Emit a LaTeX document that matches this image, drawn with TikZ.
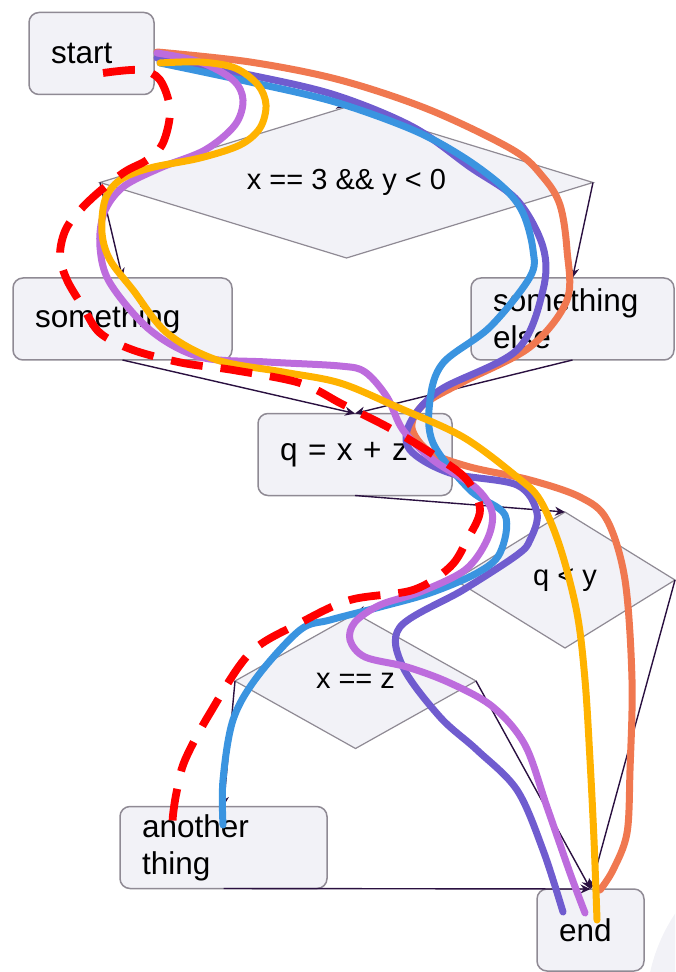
\documentclass[tikz,border=0pt]{standalone}
\usepackage{fontspec}
\setmainfont{Liberation Sans}
\usetikzlibrary{shapes.geometric,arrows.meta}
\definecolor{boxfill}{HTML}{F2F2F7}
\definecolor{boxline}{HTML}{8F8A94}
\definecolor{conn}{HTML}{2A1040}
\definecolor{cOrange}{HTML}{F07850}
\definecolor{cSlate}{HTML}{705CCF}
\definecolor{cBlue}{HTML}{3A94E0}
\definecolor{cOrchid}{HTML}{BD6CDD}
\definecolor{cAmber}{HTML}{FFB300}
\definecolor{cRed}{HTML}{FF0000}
\begin{document}
\begin{tikzpicture}[x=0.5pt,y=-0.5pt,
 box/.style={draw=boxline, fill=boxfill, line width=0.75pt, rounded corners=5pt, anchor=west,
   minimum height=41pt, inner xsep=11pt, inner ysep=0pt, outer sep=0pt, align=left,
   font=\fontsize{15.75}{18.5}\selectfont},
 dia/.style={diamond, draw=boxline, fill=boxfill, line width=0.6pt, inner sep=0pt, outer sep=0pt,
   font=\fontsize{14.5}{17}\selectfont},
 link/.style={draw=conn, line width=0.7pt, -{Stealth[length=5pt,width=4.5pt]}},
 trail/.style={line width=3.5pt, line cap=round, line join=round}
]
\useasboundingbox (0,0) rectangle (675,972);
\begin{scope}
\clip (0,0) rectangle (675,972);
\fill[boxfill] (820,1010) circle[radius=87pt];
\end{scope}

% nodes
\node[box, text width=40.5pt] (start) at (29,53.5) {start};
\node[dia, aspect=3.26, minimum width=246.5pt, minimum height=75.5pt] (d1) at (346.5,182.5) {x == 3 \&\& y < 0};
\node[box, text width=87.5pt] (some) at (13,319) {something};
\node[box, text width=79.5pt] (else) at (471,319) {something\\else};
\node[box, text width=75pt] (qxz) at (258,454.5) {q = x + z};
\node[dia, aspect=1.62, minimum width=110pt, minimum height=68pt] (d2) at (565,580) {q < y};
\node[dia, aspect=1.79, minimum width=120.5pt, minimum height=67.5pt] (d3) at (355.5,681) {x == z};
\node[box, text width=81.5pt] (another) at (120,847.5) {another\\thing};
\node[box, text width=31.5pt] (end) at (537,930) {end};

% connectors
\draw[link] (start.east) -- (d1.north);
\draw[link] (d1.west) -- (some.north);
\draw[link] (d1.east) -- (else.north);
\draw[link] (some.south) -- (qxz.north);
\draw[link] (else.south) -- (qxz.north);
\draw[link] (qxz.south) -- (d2.north);
\draw[link] (d2.west) -- (d3.north);
\draw[link] (d2.east) -- (end.north);
\draw[link] (d3.west) -- (another.north);
\draw[link] (d3.east) -- (end.north);
\draw[link] (another.south) -- (end.north);

% trails
\draw[trail, cOrange] plot[smooth, tension=0.55] coordinates {(157,52) (250,62) (340,80) (430,110) (513,150) (543,177) (560,205) (567,250) (567,300) (530,347) (463,382) (423,405) (412,428) (430,452) (470,467) (530,480) (580,497) (607,520) (625,580) (632,680) (630,770) (627,833) (613,870) (600,890)};
\draw[trail, cSlate] plot[smooth, tension=0.55] coordinates {(157,58) (250,75) (335,95) (413,127) (470,167) (517,200) (543,247) (543,290) (517,350) (440,390) (410,423) (410,450) (450,473) (517,485) (537,513) (530,540) (517,555) (463,590) (400,627) (403,667) (440,717) (477,750) (517,790) (543,850) (563,912)};
\draw[trail, cBlue] plot[smooth, tension=0.55] coordinates {(160,63) (250,82) (335,102) (413,130) (463,157) (503,187) (523,213) (533,250) (530,277) (490,327) (443,363) (430,400) (433,443) (470,490) (505,515) (500,553) (477,573) (430,593) (380,607) (330,620) (300,630) (257,677) (233,720) (223,780) (223,825)};
\draw[trail, cOrchid] plot[smooth, tension=0.55] coordinates {(157,53) (200,62) (233,80) (243,100) (235,125) (205,150) (160,168) (123,187) (104,213) (100,247) (110,283) (150,330) (200,357) (267,362) (340,366) (365,372) (387,397) (403,430) (433,460) (475,487) (492,512) (487,540) (465,570) (420,592) (380,605) (355,622) (350,640) (365,657) (407,667) (450,683) (493,707) (525,745) (547,807) (570,873) (585,913)};
\draw[trail, cAmber] plot[smooth, tension=0.55] coordinates {(160,63) (200,62) (235,68) (258,85) (266,105) (260,128) (240,145) (200,158) (150,168) (120,180) (105,200) (102,233) (110,260) (133,290) (167,333) (217,360) (283,372) (340,383) (397,407) (463,437) (517,477) (540,500) (560,547) (577,613) (585,680) (590,760) (594,840) (597,920)};
\draw[line width=3.9pt, cRed, dash pattern=on 16pt off 9pt] plot[smooth, tension=0.55] coordinates {(103,73) (140,70) (160,80) (170,110) (163,143) (147,160) (123,173) (90,200) (67,227) (60,255) (67,280) (83,307) (100,333) (133,350) (183,363) (233,370) (300,383) (340,403) (360,413) (393,430) (437,457) (467,480) (480,510) (467,540) (450,567) (413,590) (350,600) (300,623) (250,653) (210,713) (185,760) (177,790) (173,815) (172,835)};
\end{tikzpicture}
\end{document}
